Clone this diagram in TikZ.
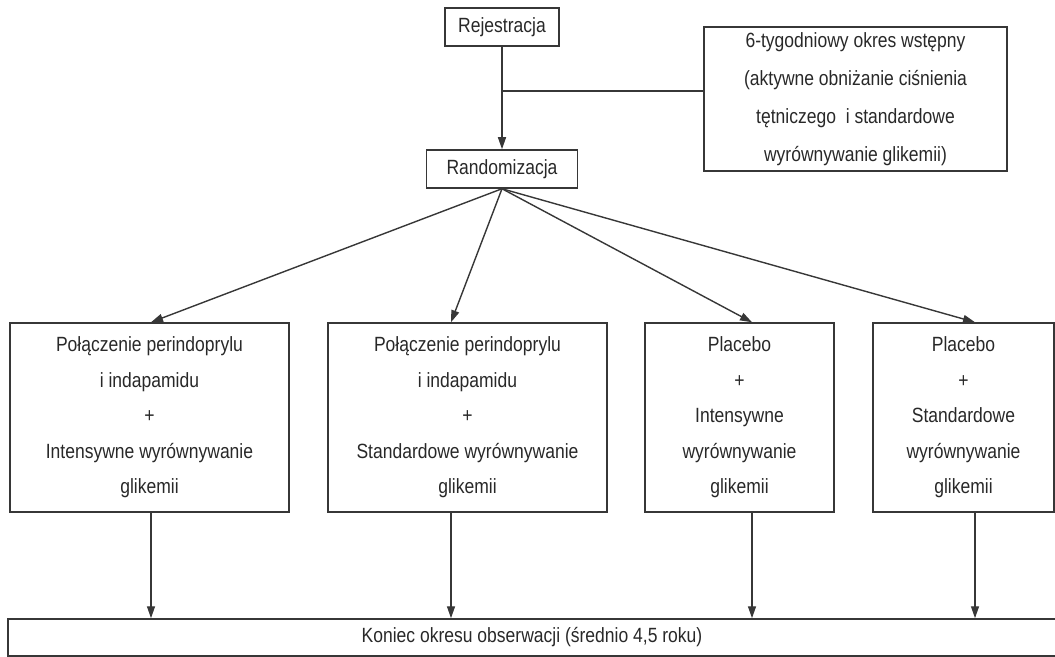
\documentclass[tikz,border=0pt]{standalone}
\usepackage{fontspec}
\setmainfont{Liberation Sans}[FakeStretch=0.85]
\usepackage{tikz}
\usetikzlibrary{
  arrows.meta,
  positioning
}
\definecolor{ink}{RGB}{40,40,40}
\definecolor{frame}{RGB}{55,55,55}

\begin{document}
\begin{tikzpicture}[x=0.5pt, y=-0.5pt,
  box/.style={draw=frame, line width=0.75pt, text=ink, inner sep=0pt, align=center,
    font=\fontsize{10.3}{17.75}\selectfont},
  arr/.style={-{Triangle[length=6pt,width=4pt]}, draw=frame, line width=0.7pt},
  link/.style={draw=frame, line width=0.7pt}]
  \useasboundingbox (0,0) rectangle (1055,657);
  \node[box, minimum width=57pt, minimum height=19pt] (reg) at (502,27) {Rejestracja};
  \node[box, minimum width=151.5pt, minimum height=72pt, font=\fontsize{10.3}{19}\selectfont] (wstep) at (855.5,99)
    {6-tygodniowy okres wstępny\\(aktywne obniżanie ciśnienia\\tętniczego\ \ i standardowe\\wyrównywanie glikemii)};
  \node[box, minimum width=75.5pt, minimum height=19pt] (rand) at (502,169) {Randomizacja};
  \node[box, minimum width=139.5pt, minimum height=94.5pt] (arm1) at (149.5,417.5)
    {Połączenie perindoprylu\\i indapamidu\\+\\Intensywne wyrównywanie\\glikemii};
  \node[box, minimum width=139.5pt, minimum height=94.5pt] (arm2) at (467.5,417.5)
    {Połączenie perindoprylu\\i indapamidu\\+\\Standardowe wyrównywanie\\glikemii};
  \node[box, minimum width=94.5pt, minimum height=94.5pt] (arm3) at (739.5,417.5)
    {Placebo\\+\\Intensywne\\wyrównywanie\\glikemii};
  \node[box, minimum width=90.5pt, minimum height=94.5pt] (arm4) at (963.5,417.5)
    {Placebo\\+\\Standardowe\\wyrównywanie\\glikemii};
  \node[box, minimum width=524pt, minimum height=18.5pt] (koniec) at (532,637.5)
    {Koniec okresu obserwacji (średnio 4,5 roku)};

  \coordinate (junc) at (502,91);
  \coordinate (c1) at (151,0);
  \coordinate (c2) at (451,0);
  \coordinate (c3) at (752,0);
  \coordinate (c4) at (975,0);

  \draw[arr] (reg.south) -- (rand.north);
  \draw[link] (junc) -- (junc -| wstep.west);
  \draw[arr] (rand.south) -- (arm1.north -| c1);
  \draw[arr] (rand.south) -- (arm2.north -| c2);
  \draw[arr] (rand.south) -- (arm3.north -| c3);
  \draw[arr] (rand.south) -- (arm4.north -| c4);
  \draw[arr] (arm1.south -| c1) -- (koniec.north -| c1);
  \draw[arr] (arm2.south -| c2) -- (koniec.north -| c2);
  \draw[arr] (arm3.south -| c3) -- (koniec.north -| c3);
  \draw[arr] (arm4.south -| c4) -- (koniec.north -| c4);
\end{tikzpicture}
\end{document}
